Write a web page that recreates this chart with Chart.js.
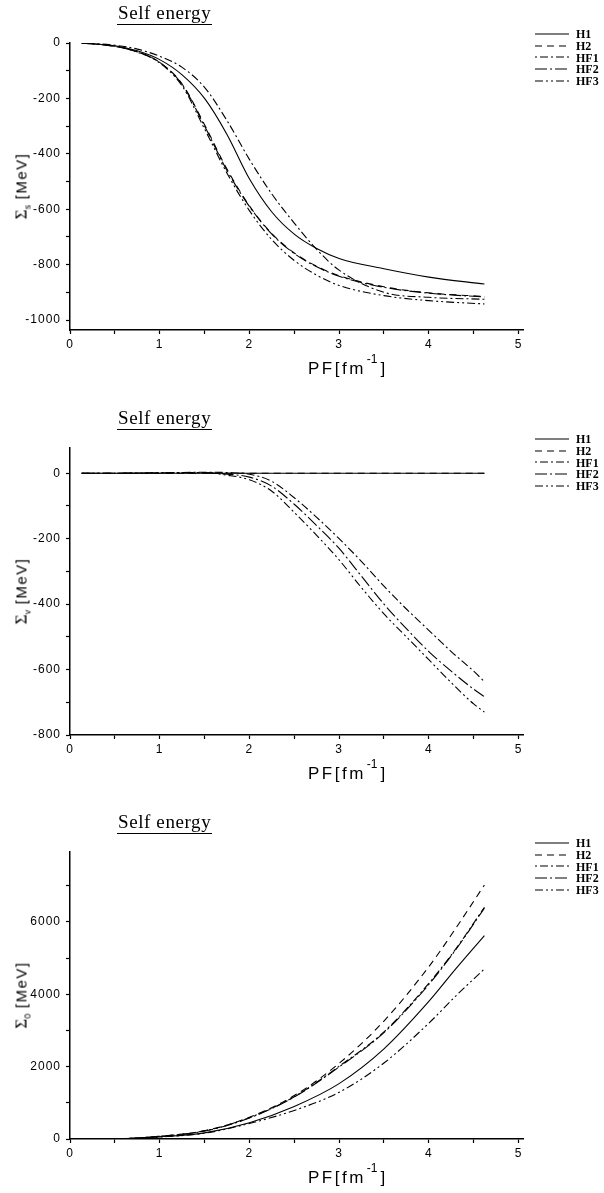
<!DOCTYPE html>
<html>
<head>
<meta charset="utf-8">
<script src="https://cdn.jsdelivr.net/npm/chart.js@4.4.1/dist/chart.umd.min.js"></script>
<style>
  body { margin: 0; background: #fff; width: 604px; height: 1193px; position: relative; overflow: hidden; }
  .panel { position: absolute; left: 0; width: 604px; height: 400px; }
  .panel canvas { position: absolute; left: 0; top: 0; }
  .title { position: absolute; left: 117px; top: 2px; font-family: "Liberation Serif", "DejaVu Serif", serif;
           font-size: 19px; letter-spacing: 0.6px; padding: 0 1px 1px 1px; border-bottom: 1.5px solid #000; line-height: 21px; }
  .xtitle { position: absolute; left: 308px; top: 356px; font-family: "Liberation Sans", sans-serif; font-size: 17px;
            letter-spacing: 2.5px; color: #000; white-space: nowrap; }
  .xtitle sup { font-size: 12px; position: relative; top: -4px; letter-spacing: 0; margin-left: 1px; margin-right: 3px; }
  .ytitle { position: absolute; left: 22px; top: 186px; transform: translate(-50%, -50%) rotate(-90deg);
            font-family: "Liberation Sans", sans-serif; font-size: 15px; letter-spacing: 1.5px; white-space: nowrap; }
  .ytitle .sig { font-family: "Liberation Serif", serif; font-size: 17px; letter-spacing: 0; }
  .ytitle sub { font-size: 9px; letter-spacing: 0; }
  .legend { position: absolute; left: 535px; top: 28px; font-family: "Liberation Serif", serif; font-weight: bold; font-size: 12px; }
  .legend div { height: 11.8px; line-height: 12px; display: flex; align-items: center; }
  .legend svg { width: 34px; height: 6px; margin-right: 7px; }
</style>
</head>
<body>

<div class="panel" style="top:0px">
  <canvas id="cS" width="604" height="400"></canvas>
  <div class="title">Self energy</div>
  <div class="ytitle"><span class="sig">Σ</span><sub>s</sub> [MeV]</div>
  <div class="xtitle">PF[fm<sup>-1</sup>]</div>
  <div class="legend" id="lS"></div>
</div>

<div class="panel" style="top:405px">
  <canvas id="cV" width="604" height="400"></canvas>
  <div class="title">Self energy</div>
  <div class="ytitle"><span class="sig">Σ</span><sub>v</sub> [MeV]</div>
  <div class="xtitle">PF[fm<sup>-1</sup>]</div>
  <div class="legend" id="lV"></div>
</div>

<div class="panel" style="top:809px">
  <canvas id="c0" width="604" height="400"></canvas>
  <div class="title">Self energy</div>
  <div class="ytitle"><span class="sig">Σ</span><sub>0</sub> [MeV]</div>
  <div class="xtitle">PF[fm<sup>-1</sup>]</div>
  <div class="legend" id="l0"></div>
</div>

<script>
// Series names and line styles
const names = ['H1', 'H2', 'HF1', 'HF2', 'HF3'];
const dashes = [[], [7, 5], [2, 3, 8, 3], [12, 3, 2, 3], [8, 3, 2, 3, 2, 3]];

// x ticks (Fermi momentum)
const xTicks = [0, 0.5, 1, 1.5, 2, 2.5, 3, 3.5, 4, 4.5, 5];

// Panel 1 : scalar self energy
const pfS = [0.13, 0.5, 0.75, 1.0, 1.25, 1.5, 1.75, 2.0, 2.25, 2.5, 2.75, 3.0, 3.5, 4.0, 4.62];
const sS_H1  = [0, -10, -28, -60, -115, -200, -330, -490, -610, -690, -742, -778, -815, -845, -870];
const sS_H2  = [0, -12, -32, -70, -148, -295, -455, -588, -688, -758, -806, -840, -880, -902, -915];
const sS_HF1 = [0, -8, -22, -48, -88, -160, -280, -420, -545, -650, -745, -820, -900, -918, -925];
const sS_HF2 = [0, -12, -32, -70, -150, -300, -460, -590, -690, -760, -808, -842, -882, -903, -917];
const sS_HF3 = [0, -12, -33, -72, -155, -310, -470, -605, -710, -785, -838, -875, -912, -930, -942];
const yTicksS = [-1000, -900, -800, -700, -600, -500, -400, -300, -200, -100, 0];

// Panel 2 : vector self energy
const pfV = [0.13, 0.5, 1.0, 1.5, 1.75, 2.0, 2.25, 2.5, 2.75, 3.0, 3.25, 3.5, 3.75, 4.0, 4.25, 4.5, 4.62];
const sV_H1  = [0, 0, 0, 0, 0, 0, 0, 0, 0, 0, 0, 0, 0, 0, 0, 0, 0];
const sV_H2  = [0, 0, 0, 0, 0, 0, 0, 0, 0, 0, 0, 0, 0, 0, 0, 0, 0];
const sV_HF1 = [0, 0, 1, 3, 2, -3, -25, -75, -135, -200, -270, -345, -415, -480, -545, -605, -637];
const sV_HF2 = [0, 0, 1, 2, -3, -12, -40, -95, -160, -230, -315, -400, -475, -545, -605, -660, -683];
const sV_HF3 = [0, 0, 1, 1, -6, -20, -55, -120, -190, -265, -350, -430, -500, -570, -640, -705, -730];
const yTicksV = [-800, -700, -600, -500, -400, -300, -200, -100, 0];

// Panel 3 : time-like vector self energy
const pf0 = [0.13, 0.5, 1.0, 1.5, 2.0, 2.5, 3.0, 3.5, 4.0, 4.3, 4.62];
const s0_H1  = [0, 4, 60, 170, 450, 900, 1530, 2490, 3800, 4700, 5622];
const s0_H2  = [0, 5, 75, 230, 600, 1200, 2090, 3260, 4760, 5820, 7020];
const s0_HF1 = [0, 5, 75, 225, 590, 1170, 2010, 2960, 4300, 5250, 6405];
const s0_HF2 = [0, 5, 72, 220, 580, 1160, 1990, 2940, 4270, 5230, 6380];
const s0_HF3 = [0, 4, 55, 160, 430, 790, 1290, 2100, 3200, 3950, 4700];
const yTicks0 = [0, 1000, 2000, 3000, 4000, 5000, 6000, 7000];

// letter spacing for tick labels
const spacing = {
  id: 'spacing',
  beforeDraw(chart) { chart.ctx.letterSpacing = '1px'; }
};

function makeChart(id, pf, series, yMin, yMax, yTicks, yLabelStep) {
  new Chart(document.getElementById(id), {
    type: 'line',
    data: {
      datasets: series.map((s, i) => ({
        label: names[i],
        data: pf.map((x, j) => ({ x: x, y: s[j] })),
        borderColor: '#000',
        borderWidth: 1.1,
        borderDash: dashes[i],
        pointRadius: 0,
        cubicInterpolationMode: 'monotone',
        fill: false
      }))
    },
    options: {
      responsive: false,
      animation: false,
      events: [],
      layout: { padding: { left: 0, right: 81, top: 43, bottom: 10 } },
      plugins: { legend: { display: false }, tooltip: { enabled: false } },
      scales: {
        x: {
          type: 'linear', min: 0, max: 5.05,
          afterBuildTicks: s => { s.ticks = xTicks.map(v => ({ value: v })); },
          afterFit: s => { s.height = 60; },
          grid: { drawOnChartArea: false, drawTicks: true, tickLength: 4, color: '#000', tickWidth: 1.2 },
          border: { color: '#000', width: 1.5 },
          ticks: { callback: v => Number.isInteger(v) ? v : '', color: '#000', maxRotation: 0, autoSkip: false, padding: 3,
                   font: { family: 'Liberation Sans', size: 12 } }
        },
        y: {
          type: 'linear', min: yMin, max: yMax,
          afterBuildTicks: s => { s.ticks = yTicks.map(v => ({ value: v })); },
          afterFit: s => { s.width = 70; },
          grid: { drawOnChartArea: false, drawTicks: true, tickLength: 4, color: '#000', tickWidth: 1.2 },
          border: { color: '#000', width: 1.5 },
          ticks: { callback: v => v % yLabelStep === 0 ? v : '', color: '#000', autoSkip: false, padding: 5,
                   font: { family: 'Liberation Sans', size: 12 } }
        }
      }
    },
    plugins: [spacing]
  });
}

function makeLegend(id) {
  const el = document.getElementById(id);
  names.forEach((n, i) => {
    const row = document.createElement('div');
    const da = dashes[i].length ? 'stroke-dasharray="' + dashes[i].join(' ') + '"' : '';
    row.innerHTML = '<svg viewBox="0 0 34 6"><line x1="0" y1="3" x2="34" y2="3" stroke="#000" stroke-width="1.2" ' + da + '/></svg>' + n;
    el.appendChild(row);
  });
}

makeChart('cS', pfS, [sS_H1, sS_H2, sS_HF1, sS_HF2, sS_HF3], -1036, 0, yTicksS, 200);
makeChart('cV', pfV, [sV_H1, sV_H2, sV_HF1, sV_HF2, sV_HF3], -800, 77, yTicksV, 200);
makeChart('c0', pf0, [s0_H1, s0_H2, s0_HF1, s0_HF2, s0_HF3], 0, 7930, yTicks0, 2000);
makeLegend('lS');
makeLegend('lV');
makeLegend('l0');
</script>
</body>
</html>
